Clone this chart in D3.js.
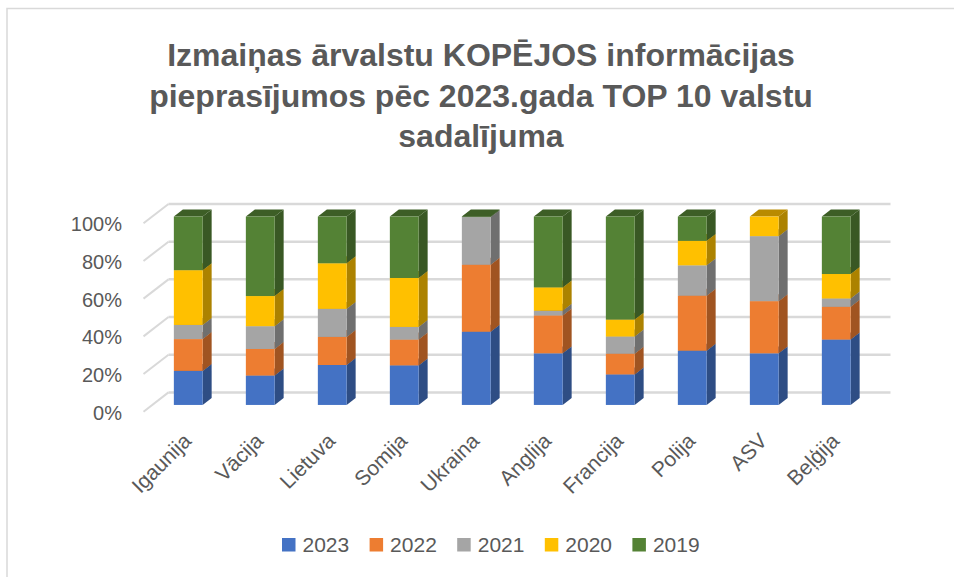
<!DOCTYPE html>
<html>
<head>
<meta charset="utf-8">
<script src="https://cdn.jsdelivr.net/npm/d3@7"></script>
<style>
  body { margin: 0; background: #fff; }
  text { font-family: "Liberation Sans", Arial, sans-serif; fill: #595959; }
</style>
</head>
<body>
<div id="chart"></div>
<script>
var W = 954, H = 577;

// data (shares of each year, per country)
var countries = ["Igaunija", "Vācija", "Lietuva", "Somija", "Ukraina", "Anglija", "Francija", "Polija", "ASV", "Beļģija"];
var years = ["2023", "2022", "2021", "2020", "2019"];
var v2023 = [18.1, 15.6, 21.2, 21.0, 38.9, 27.4, 16.2, 28.8, 27.4, 34.7];
var v2022 = [16.9, 14.1, 14.9, 13.7, 35.6, 20.1, 11.0, 29.2, 27.7, 17.4];
var v2021 = [7.5, 12.1, 14.9, 6.7, 25.3, 2.5, 9.1, 16.1, 34.5, 4.4];
var v2020 = [29.1, 16.0, 24.2, 26.0, 0, 12.4, 9.0, 13.0, 10.4, 13.0];
var v2019 = [28.5, 42.2, 24.8, 32.6, 0.3, 37.6, 54.7, 12.9, 0, 30.5];
var yTicks = [0, 0.2, 0.4, 0.6, 0.8, 1];
var titleLines = ["Izmaiņas ārvalstu KOPĒJOS informācijas", "pieprasījumos pēc 2023.gada TOP 10 valstu", "sadalījuma"];
var colors = ["#4472C4", "#ED7D31", "#A5A5A5", "#FFC000", "#548235"];

var series = [v2023, v2022, v2021, v2020, v2019];
var rows = countries.map(function(c, i) {
  var r = { country: c }, tot = 0;
  years.forEach(function(y, k) { tot += series[k][i]; });
  years.forEach(function(y, k) { r[y] = series[k][i] / tot; });
  return r;
});
var stacked = d3.stack().keys(years)(rows);

// 3d-ish layout: front plane scales + depth offset
var depthX = 25, depthY = -19.3;
var barFront = 0.35, barBack = 0.71;
var x = d3.scaleBand().domain(countries).range([143.5, 863.5]).padding(0);
var y = d3.scaleLinear().domain([0, 1]).range([411.7, 223.3]);
var color = d3.scaleOrdinal().domain(years).range(colors);
var barW = x.bandwidth() * 0.4;

var svg = d3.select("#chart").append("svg")
  .attr("width", W).attr("height", H);

svg.append("rect")
  .attr("x", 7).attr("y", 8.5).attr("width", W + 10).attr("height", H + 10)
  .attr("fill", "none").attr("stroke", "#D9D9D9").attr("stroke-width", 1.5);

// title
var title = svg.append("g").attr("class", "title");
var tl = title.selectAll("text").data(titleLines).enter().append("text")
  .attr("x", 481)
  .attr("y", function(d, i) { return 66 + i * 40.5; })
  .attr("text-anchor", "middle")
  .style("font-weight", "bold")
  .style("font-size", "30px")
  .text(function(d) { return d; });
var w2 = tl.nodes()[1].getComputedTextLength();
tl.style("font-size", (30 * 664 / w2) + "px");

// walls: gridlines on back wall and diagonals on side wall
var grid = svg.append("g").attr("class", "grid");
grid.selectAll(".back").data(yTicks).enter().append("line")
  .attr("x1", x.range()[0] + depthX).attr("x2", x.range()[1] + 27)
  .attr("y1", function(d) { return y(d) + depthY; })
  .attr("y2", function(d) { return y(d) + depthY; })
  .attr("stroke", "#D9D9D9").attr("stroke-width", 2.5);
grid.selectAll(".side").data(yTicks).enter().append("line")
  .attr("x1", x.range()[0]).attr("x2", x.range()[0] + depthX)
  .attr("y1", function(d) { return y(d); })
  .attr("y2", function(d) { return y(d) + depthY; })
  .attr("stroke", "#D9D9D9").attr("stroke-width", 2);

// y axis labels
var yAxis = svg.append("g")
  .attr("transform", "translate(122,1)")
  .call(d3.axisLeft(y).tickValues(yTicks).tickFormat(d3.format(".0%")).tickSize(0).tickPadding(0));
yAxis.select(".domain").remove();
yAxis.selectAll("text").style("font-size", "20px").attr("fill", "#595959")
  .style("font-family", "'Liberation Sans', Arial, sans-serif");

// bars
var fx = barFront * depthX, fy = barFront * depthY;
var bx = (barBack - barFront) * depthX, by = (barBack - barFront) * depthY;
var bars = svg.append("g").attr("class", "bars");
stacked.forEach(function(layer) {
  var c = color(layer.key);
  var dark = d3.color(c).darker(1.1).formatHex();
  var top = d3.color(c).darker(0.9).formatHex();
  var seg = bars.selectAll(".s" + layer.key)
    .data(layer.filter(function(d) { return d[1] - d[0] > 0.0001; }))
    .enter().append("g");
  seg.append("path")
    .attr("d", function(d) {
      var x0 = x(d.data.country) + (x.bandwidth() - barW) / 2 + fx + barW;
      var yt = y(d[1]) + fy, yb = y(d[0]) + fy;
      return "M" + x0 + "," + yb + "L" + x0 + "," + yt + "L" + (x0 + bx) + "," + (yt + by) +
        "L" + (x0 + bx) + "," + (yb + by) + "Z";
    })
    .attr("fill", dark);
  seg.append("path")
    .attr("d", function(d) {
      var x0 = x(d.data.country) + (x.bandwidth() - barW) / 2 + fx;
      var yt = y(d[1]) + fy;
      return "M" + x0 + "," + yt + "L" + (x0 + barW) + "," + yt + "L" + (x0 + barW + bx) + "," + (yt + by) +
        "L" + (x0 + bx) + "," + (yt + by) + "Z";
    })
    .attr("fill", top);
  seg.append("rect")
    .attr("x", function(d) { return x(d.data.country) + (x.bandwidth() - barW) / 2 + fx; })
    .attr("y", function(d) { return y(d[1]) + fy; })
    .attr("width", barW)
    .attr("height", function(d) { return y(d[0]) - y(d[1]); })
    .attr("fill", c);
});

// category labels
var xAxis = svg.append("g")
  .attr("transform", "translate(0,0)")
  .call(d3.axisBottom(x).tickSize(0));
xAxis.select(".domain").remove();
xAxis.selectAll(".tick").attr("transform", function(d) {
  return "translate(" + (x(d) + x.bandwidth() / 2 + fx - 1) + ",437)";
});
xAxis.selectAll("text")
  .attr("x", 0).attr("y", 0).attr("dy", "0.35em")
  .attr("text-anchor", "end")
  .attr("transform", "rotate(-45)")
  .attr("fill", "#595959")
  .style("font-size", "21px")
  .style("font-family", "'Liberation Sans', Arial, sans-serif");

// legend
var legend = svg.append("g").attr("class", "legend")
  .selectAll("g").data(years).enter().append("g")
  .attr("transform", function(d, i) { return "translate(" + (282 + i * 87.6) + ",538)"; });
legend.append("rect")
  .attr("width", 13.5).attr("height", 13.5)
  .attr("fill", function(d) { return color(d); });
legend.append("text")
  .attr("x", 20.5).attr("y", 14)
  .style("font-size", "21px")
  .text(function(d) { return d; });
</script>
</body>
</html>
